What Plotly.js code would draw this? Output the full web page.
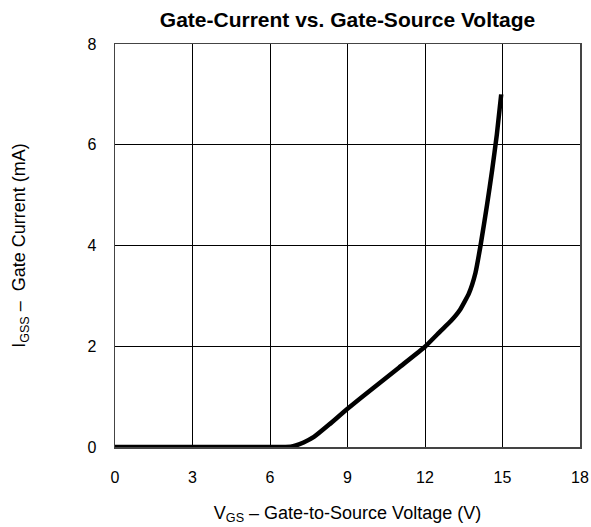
<!DOCTYPE html>
<html><head><meta charset="utf-8">
<script src="https://cdn.plot.ly/plotly-3.0.1.min.js"></script>
<style>body{margin:0;background:#fff}#c{width:591px;height:527px}</style>
</head><body><div id="c"></div>
<script>
var vgs = [0, 3, 6, 6.6, 6.8, 7.0, 7.3, 7.7, 8.3, 9.0, 10.0, 11.0, 12.0, 12.6, 13.0, 13.35, 13.7, 13.95, 14.15, 14.4, 14.6, 14.78, 14.95];
var igss = [0, 0, 0, 0, 0.005, 0.03, 0.09, 0.2, 0.45, 0.76, 1.17, 1.58, 1.99, 2.3, 2.5, 2.72, 3.05, 3.45, 4.0, 4.8, 5.5, 6.2, 7.0];
var xTicks = [0, 3, 6, 9, 12, 15, 18];
var yTicks = [0, 2, 4, 6, 8];
var fam = 'Liberation Sans, Arial, sans-serif';
Plotly.newPlot('c', [{
  x: vgs, y: igss, mode: 'lines', type: 'scatter',
  line: {color: '#000', width: 4.5, shape: 'spline', smoothing: 0.4}, hoverinfo: 'none'
}], {
  width: 591, height: 527,
  margin: {l: 115, r: 11, t: 44, b: 80},
  paper_bgcolor: '#fff', plot_bgcolor: '#fff',
  font: {family: fam, size: 16, color: '#000'},
  showlegend: false,
  title: {text: '<b>Gate-Current vs. Gate-Source Voltage</b>', x: 0.588, xanchor: 'center', y: 0.962, yanchor: 'middle', font: {family: fam, size: 21, color: '#000'}},
  xaxis: {range: [0, 18], tickvals: xTicks, ticktext: xTicks.map(String), showgrid: true, gridcolor: '#000', gridwidth: 1,
    showline: true, linecolor: '#444', linewidth: 1.5, mirror: true, zeroline: false,
    ticks: 'outside', ticklen: 15, tickcolor: 'rgba(0,0,0,0)', tickfont: {family: fam, size: 16, color: '#000'},
    title: {text: 'V<sub>GS</sub> – Gate-to-Source Voltage (V)', font: {family: fam, size: 18, color: '#000'}, standoff: 21}, fixedrange: true},
  yaxis: {range: [0, 8], tickvals: yTicks, ticktext: yTicks.map(String), showgrid: true, gridcolor: '#000', gridwidth: 1,
    showline: true, linecolor: '#444', linewidth: 1.5, mirror: true, zeroline: false,
    ticks: 'outside', ticklen: 14, tickcolor: 'rgba(0,0,0,0)', tickfont: {family: fam, size: 16, color: '#000'},
    title: {text: 'I<sub>GSS</sub> –  Gate Current (mA)', font: {family: fam, size: 18, color: '#000'}, standoff: 57}, fixedrange: true}
}, {displayModeBar: false, staticPlot: true});
</script></body></html>
